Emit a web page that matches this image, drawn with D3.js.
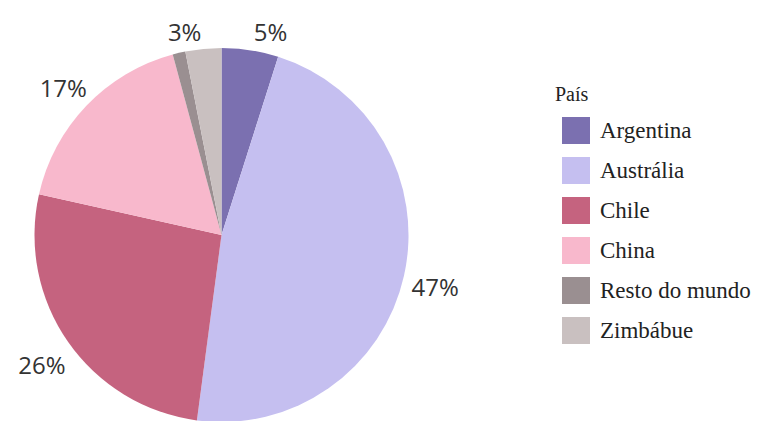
<!DOCTYPE html>
<html>
<head>
<meta charset="utf-8">
<script src="https://cdn.jsdelivr.net/npm/d3@7"></script>
<style>
  html, body { margin: 0; padding: 0; background: #ffffff; }
  svg { display: block; }
</style>
</head>
<body>
<svg id="chart" width="760" height="421"></svg>
<script>
// ---- data ----
const categories = ["Argentina", "Austrália", "Chile", "China", "Resto do mundo", "Zimbábue"];
const values = [4.9, 47.2, 26.4, 17.3, 1.1, 3.1];
const labelTexts = ["5%", "47%", "26%", "17%", "", "3%"];
const colors = ["#7b70b0", "#c5bff0", "#c5637f", "#f8b8cc", "#9a8f91", "#c9c0c0"];
const legendTitle = "País";

// ---- layout ----
const svg = d3.select("#chart");
const cx = 221.5, cy = 235, R = 187;
const serifFont = '"Liberation Serif", "Tinos", "Times New Roman", serif';

const data = categories.map((c, i) => ({ name: c, value: values[i], label: labelTexts[i], color: colors[i] }));

const pie = d3.pie().value(d => d.value).sort(null);
const arcs = pie(data);
const arcGen = d3.arc().innerRadius(0).outerRadius(R);

const g = svg.append("g").attr("transform", `translate(${cx},${cy})`);
g.selectAll("path.slice")
  .data(arcs)
  .enter().append("path")
  .attr("class", "slice")
  .attr("d", arcGen)
  .attr("fill", d => d.data.color);

// ---- labels: radial placement then simple overlap spreading ----
const labelR = 219;
const labels = arcs.filter(a => a.data.label).map(a => {
  const mid = (a.startAngle + a.endAngle) / 2;
  return { text: a.data.label, x: Math.sin(mid) * labelR, y: -Math.cos(mid) * labelR + 4, mid };
});
labels.forEach(l => { if (cy + l.y < 31) l.y = 31 - cy; });
for (let i = 0; i < labels.length; i++) {
  for (let j = i + 1; j < labels.length; j++) {
    const a = labels[i], b = labels[j];
    if (Math.abs(a.y - b.y) < 24 && Math.abs(a.x - b.x) < 86) {
      const m = (a.x + b.x) / 2;
      const left = a.x < b.x ? a : b, right = a.x < b.x ? b : a;
      left.x = m - 43; right.x = m + 43;
    }
  }
}
g.selectAll("text.lbl")
  .data(labels)
  .enter().append("text")
  .attr("class", "lbl")
  .attr("x", d => d.x)
  .attr("y", d => d.y)
  .attr("text-anchor", "middle")
  .attr("dominant-baseline", "central")
  .style("font-family", "'Open Sans', 'DejaVu Sans', sans-serif")
  .style("font-size", "24px")
  .attr("fill", "#333")
  .text(d => d.text);

// ---- legend ----
const lg = svg.append("g").attr("transform", "translate(555,0)");
lg.append("text")
  .attr("x", 0).attr("y", 101)
  .style("font-family", serifFont)
  .style("font-size", "20px")
  .attr("fill", "#222")
  .text(legendTitle);

const rowY = d3.scaleBand().domain(categories).range([117, 117 + 40 * categories.length]).paddingInner(0);
const items = lg.selectAll("g.item")
  .data(data)
  .enter().append("g")
  .attr("class", "item")
  .attr("transform", d => `translate(0,${rowY(d.name)})`);
items.append("rect")
  .attr("x", 7).attr("y", 0)
  .attr("width", 28).attr("height", 27)
  .attr("fill", d => d.color);
items.append("text")
  .attr("x", 45).attr("y", 21)
  .style("font-family", serifFont)
  .style("font-size", "23px")
  .attr("fill", "#222")
  .text(d => d.name);
</script>
</body>
</html>
